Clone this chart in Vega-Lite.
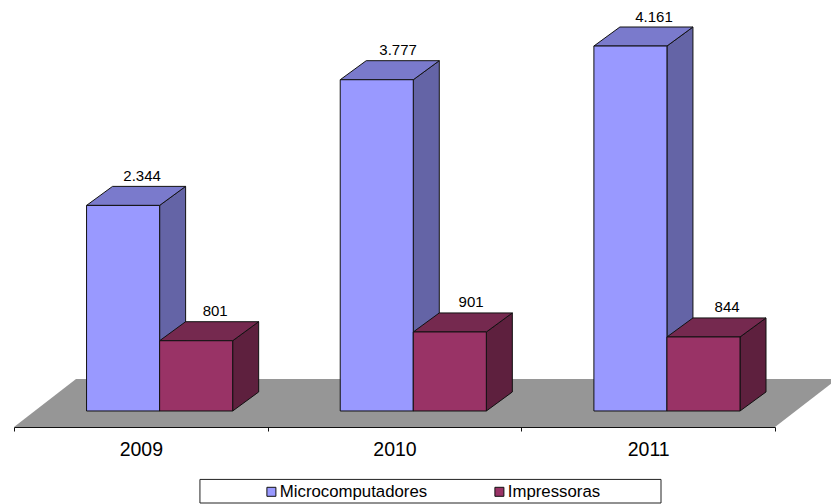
{
"$schema":"https://vega.github.io/schema/vega-lite/v6.json",
"autosize":{"type":"fit","contains":"padding"},
"width":831,"height":504,"padding":0,
"background":"white",
"config":{"view":{"stroke":null},"font":"Liberation Sans"},
"data":{"values":[
{"year":"2009","series":"Microcomputadores","value":2344},
{"year":"2009","series":"Impressoras","value":801},
{"year":"2010","series":"Microcomputadores","value":3777},
{"year":"2010","series":"Impressoras","value":901},
{"year":"2011","series":"Microcomputadores","value":4161},
{"year":"2011","series":"Impressoras","value":844}
]},
"transform":[
{"calculate":"toNumber(datum.year)-2009","as":"idx"},
{"calculate":"datum.idx+0.286+(datum.series==='Impressoras'?0.288:0)","as":"x0"},
{"calculate":"datum.x0+0.288","as":"x1"},
{"calculate":"replace(format(datum.value,','),',','.')","as":"label"}
],
"layer":[
{"data":{"values":[{"d":0},{"d":1}]},
 "transform":[{"calculate":"datum.d*0.2444","as":"xa"},{"calculate":"3+datum.d*0.2444","as":"xb"},{"calculate":"-182+datum.d*547","as":"yy"}],
 "mark":{"type":"area","orient":"horizontal","color":"#969696","clip":true},
 "encoding":{
  "x":{"field":"xa","type":"quantitative","stack":null,"axis":null,"scale":{"domain":[-0.0552,3.2207],"nice":false,"zero":false}},
  "x2":{"field":"xb"},
  "y":{"field":"yy","type":"quantitative","axis":null,"scale":{"domain":[-1060.4,4686],"nice":false,"zero":false}}
 }},
{"data":{"values":[{"name":"legend frame"}]},
 "mark":{"type":"rect","fill":"white","stroke":"#222","strokeWidth":1},
 "encoding":{
  "x":{"datum":0.733,"type":"quantitative","axis":null,"scale":{"domain":[-0.0552,3.2207],"nice":false,"zero":false}},
  "x2":{"datum":2.5506},
  "y":{"datum":-780,"type":"quantitative","axis":null,"scale":{"domain":[-1060.4,4686],"nice":false,"zero":false}},
  "y2":{"datum":-1049}
 }},
{"transform":[{"calculate":"[0,1]","as":"d"},{"flatten":["d"]},
  {"calculate":"datum.x1+datum.d*0.1025","as":"xs"},{"calculate":"datum.d*217","as":"ylo"},{"calculate":"datum.value+datum.d*217","as":"yhi"}],
 "mark":{"type":"area","orient":"vertical","stroke":"#111","strokeWidth":1},
 "encoding":{
  "x":{"field":"xs","type":"quantitative","axis":null,"scale":{"domain":[-0.0552,3.2207],"nice":false,"zero":false}},
  "y":{"field":"yhi","type":"quantitative","stack":null,"axis":null,"scale":{"domain":[-1060.4,4686],"nice":false,"zero":false}},
  "y2":{"field":"ylo"},
  "detail":[{"field":"year"},{"field":"series"}],
  "fill":{"condition":{"test":"datum.series==='Impressoras'","value":"#5e203e"},"value":"#6464a6"}
 }},
{"transform":[{"calculate":"[0,1]","as":"d"},{"flatten":["d"]},
  {"calculate":"datum.x0+datum.d*0.1025","as":"xa"},{"calculate":"datum.x1+datum.d*0.1025","as":"xb"},{"calculate":"datum.value+datum.d*217","as":"yt"}],
 "mark":{"type":"area","orient":"horizontal","stroke":"#111","strokeWidth":1},
 "encoding":{
  "x":{"field":"xa","type":"quantitative","stack":null,"axis":null,"scale":{"domain":[-0.0552,3.2207],"nice":false,"zero":false}},
  "x2":{"field":"xb"},
  "y":{"field":"yt","type":"quantitative","axis":null,"scale":{"domain":[-1060.4,4686],"nice":false,"zero":false}},
  "detail":[{"field":"year"},{"field":"series"}],
  "fill":{"condition":{"test":"datum.series==='Impressoras'","value":"#75294f"},"value":"#7a7acc"}
 }},
{"mark":{"type":"bar","stroke":"#111","strokeWidth":1},
 "encoding":{
  "x":{"field":"x0","type":"quantitative","axis":null,"scale":{"domain":[-0.0552,3.2207],"nice":false,"zero":false}},
  "x2":{"field":"x1"},
  "y":{"field":"value","type":"quantitative","stack":null,"axis":null,"scale":{"domain":[-1060.4,4686],"nice":false,"zero":false}},
  "y2":{"datum":0},
  "color":{"field":"series","type":"nominal",
   "scale":{"domain":["Microcomputadores","Impressoras"],"range":["#9999ff","#993366"]},
   "legend":{"title":null,"orient":"none","legendX":263,"legendY":483,"direction":"horizontal","columns":2,
    "symbolType":"square","symbolSize":81,"symbolStrokeColor":"#111","symbolStrokeWidth":1,"symbolOpacity":1,
    "labelFont":"Liberation Sans","labelFontSize":16.8,"labelColor":"#000","labelLimit":300,"labelOffset":0,"columnPadding":63,"padding":0}}
 }},
{"transform":[
  {"calculate":"(datum.x0+datum.x1)/2+0.075+0.009*datum.idx","as":"xt"},
  {"calculate":"datum.value+217","as":"yt"}],
 "mark":{"type":"text","font":"Liberation Sans","fontSize":15,"color":"#000","dy":-10.5,"baseline":"middle","align":"center"},
 "encoding":{
  "x":{"field":"xt","type":"quantitative","axis":null,"scale":{"domain":[-0.0552,3.2207],"nice":false,"zero":false}},
  "y":{"field":"yt","type":"quantitative","stack":null,"axis":null,"scale":{"domain":[-1060.4,4686],"nice":false,"zero":false}},
  "text":{"field":"label"}
 }},
{"mark":{"type":"rule","opacity":0},
 "encoding":{
  "x":{"field":"year","type":"nominal",
   "scale":{"type":"band","domain":["2009","2010","2011"],"range":[14,775],"paddingInner":0,"paddingOuter":0},
   "axis":{"orient":"bottom","offset":-77,"title":null,"grid":false,"labelAngle":0,"tickBand":"extent","tickSize":4,"tickColor":"#111","domainColor":"#111","labelColor":"#000","labelFont":"Liberation Sans","labelFontSize":19.5,"labelPadding":9}}
 }}
],
"resolve":{"scale":{"x":"independent"},"axis":{"x":"independent"}}
}
